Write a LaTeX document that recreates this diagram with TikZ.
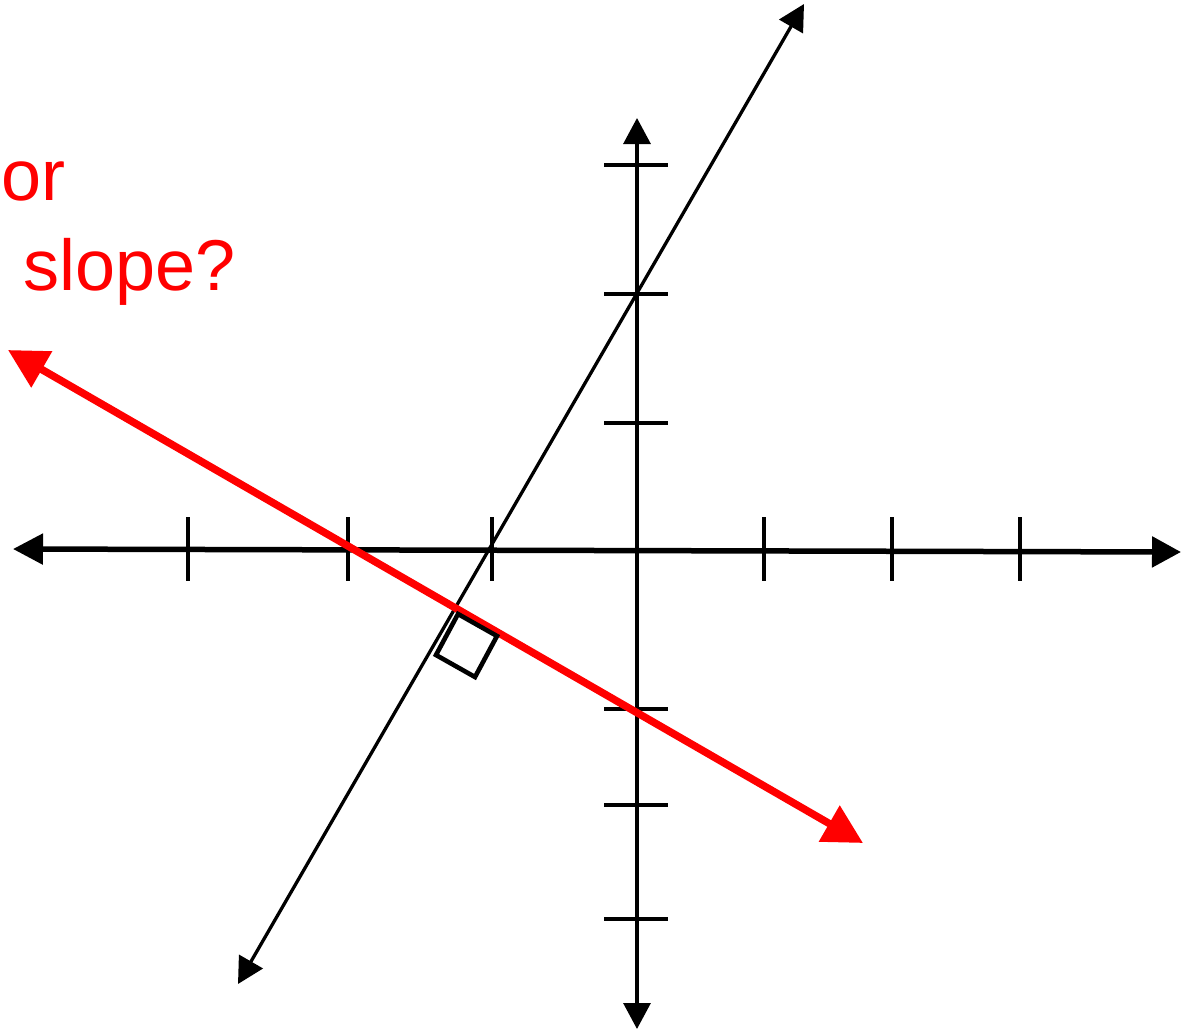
\documentclass[tikz,border=0pt]{standalone}
\usepackage{fontspec}
\setmainfont{Liberation Sans}
\usetikzlibrary{arrows.meta}
\definecolor{redline}{RGB}{255,0,0}
\tikzset{
  axisx/.style={line width=5.5pt, {Triangle[length=30pt,width=30pt]}-{Triangle[length=29pt,width=30pt]}},
  axisy/.style={line width=3.2pt, {Triangle[length=26pt,width=27pt]}-{Triangle[length=26pt,width=27pt]}},
  tickmark/.style={line width=4.3pt},
  slantline/.style={line width=3.3pt, {Triangle[length=26pt,width=27pt]}-{Triangle[length=26pt,width=27pt]}},
  perpline/.style={draw=redline, line width=7.5pt, {Triangle[length=39pt,width=40pt]}-{Triangle[length=39pt,width=40pt]}},
  rightbox/.style={line width=4.6pt, line join=miter},
  lbl/.style={text=redline, font=\fontsize{72pt}{80pt}\selectfont, anchor=base west, inner sep=0pt}
}
\begin{document}
\begin{tikzpicture}[x=1pt,y=-1pt]
\useasboundingbox (0,0) rectangle (1187,1031);
% axes
\coordinate (xl) at (13,549);
\coordinate (xr) at (1181,552);
\coordinate (yt) at (637,118);
\coordinate (yb) at (637,1029);
\draw[axisx] (xl) -- (xr);
\draw[axisy] (yt) -- (yb);
% x ticks
\foreach \x/\n in {188/a,348/b,492/c,764/d,892/e,1020/f}{
  \coordinate (xt\n1) at (\x,517);
  \coordinate (xt\n2) at (\x,581);
  \draw[tickmark] (xt\n1) -- (xt\n2);
}
% y ticks
\foreach \y/\n in {165/a,294/b,423/c,709/d,805/e,919/f}{
  \coordinate (yt\n1) at (604,\y);
  \coordinate (yt\n2) at (668,\y);
  \draw[tickmark] (yt\n1) -- (yt\n2);
}
% slanted black line
\coordinate (st) at (804,4);
\coordinate (sb) at (238,984);
\draw[slantline] (sb) -- (st);
% red perpendicular line
\coordinate (rl) at (8,350);
\coordinate (rr) at (863,843);
\draw[perpline] (rl) -- (rr);
% right angle mark
\coordinate (b1) at (458,614);
\coordinate (b2) at (497,636);
\coordinate (b3) at (475,677);
\coordinate (b4) at (436,655);
\draw[rightbox] (b1) -- (b2) -- (b3) -- (b4) -- cycle;
% text
\node[lbl] (or) at (1,200) {or};
\node[lbl] (slope) at (23,290) {slope?};
\end{tikzpicture}
\end{document}
